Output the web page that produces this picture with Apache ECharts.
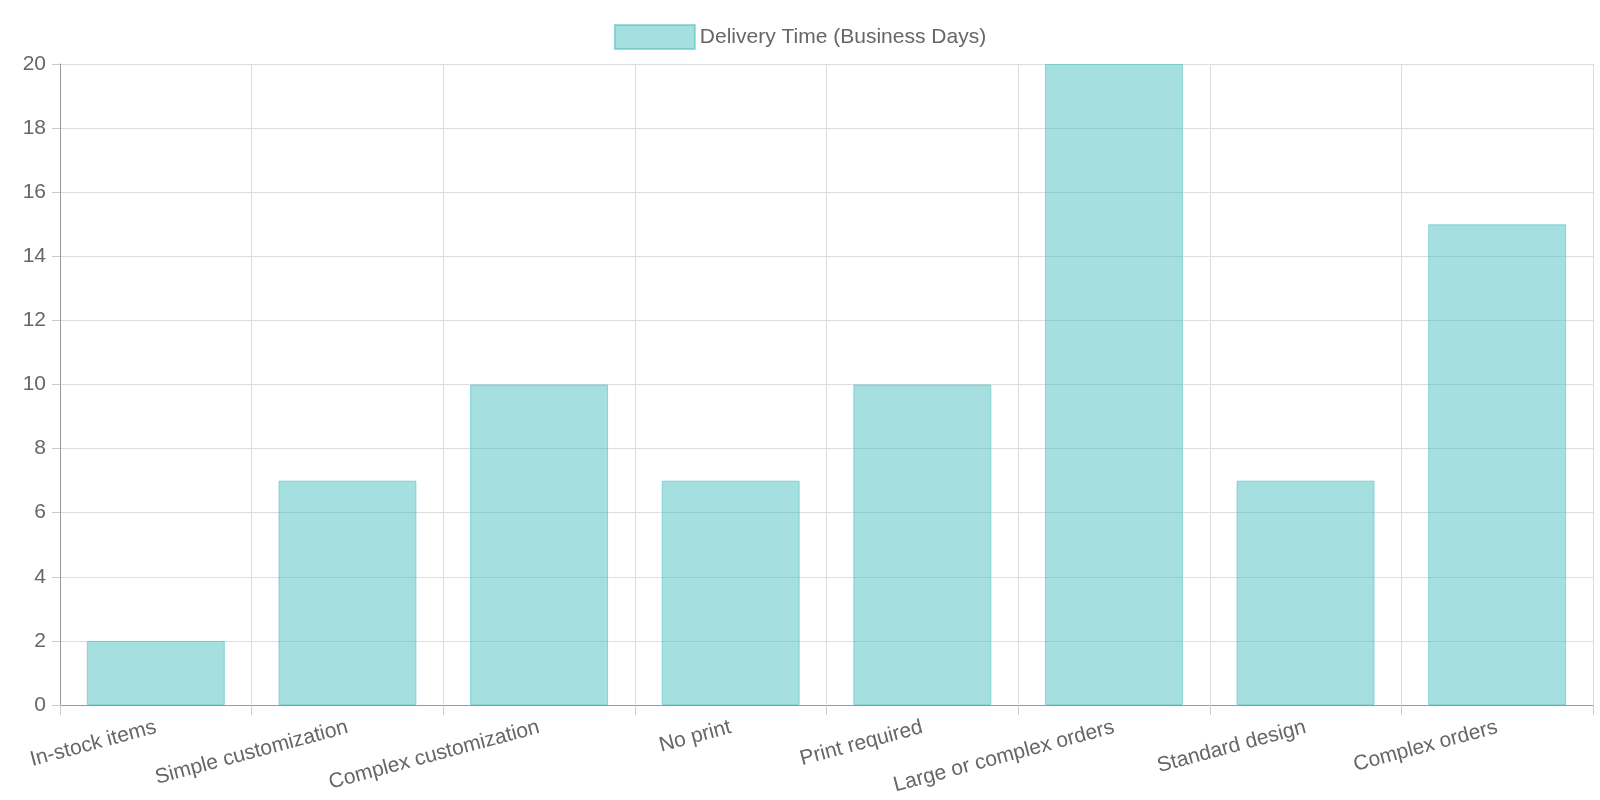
<!DOCTYPE html>
<html><head><meta charset="utf-8">
<script src="https://cdn.jsdelivr.net/npm/echarts@6/dist/echarts.min.js"></script>
<style>html,body{margin:0;padding:0;background:#fff}#c{width:1600px;height:800px}</style>
</head><body><div id="c"></div>
<script>
const categories = ["In-stock items","Simple customization","Complex customization","No print","Print required","Large or complex orders","Standard design","Complex orders"];
const deliveryDays = [2,7,10,7,10,20,7,15];
const seriesName = "Delivery Time (Business Days)";
const chart = echarts.init(document.getElementById('c'));
chart.setOption({
  animation:false,
  textStyle:{fontFamily:'Liberation Sans, Arial, sans-serif'},
  legend:{top:19,left:'center',itemWidth:80,itemHeight:24,itemGap:12,icon:'rect',
    textStyle:{fontSize:21,color:'#666'},data:[seriesName]},
  grid:{left:60,right:7,top:64,bottom:95,containLabel:false},
  xAxis:{type:'category',data:categories,boundaryGap:true,
    axisLine:{lineStyle:{color:'#999'}},
    axisTick:{show:true,length:10,lineStyle:{color:'#ccc'}},
    splitLine:{show:true,lineStyle:{color:'#ddd'}},
    axisLabel:{rotate:15,fontSize:21,color:'#666',margin:22,interval:0}},
  yAxis:{type:'value',min:0,max:20,interval:2,
    axisLine:{show:true,lineStyle:{color:'#999'}},
    axisTick:{show:true,length:8,lineStyle:{color:'#ccc'}},
    splitLine:{lineStyle:{color:'#ddd'}},
    axisLabel:{fontSize:21,color:'#666',margin:14}},
  series:[{name:seriesName,type:'bar',data:deliveryDays,barWidth:'72%',
    itemStyle:{color:'rgba(75,192,192,0.5)',borderColor:'rgba(75,192,192,0.55)',borderWidth:1}}]
});
</script></body></html>
